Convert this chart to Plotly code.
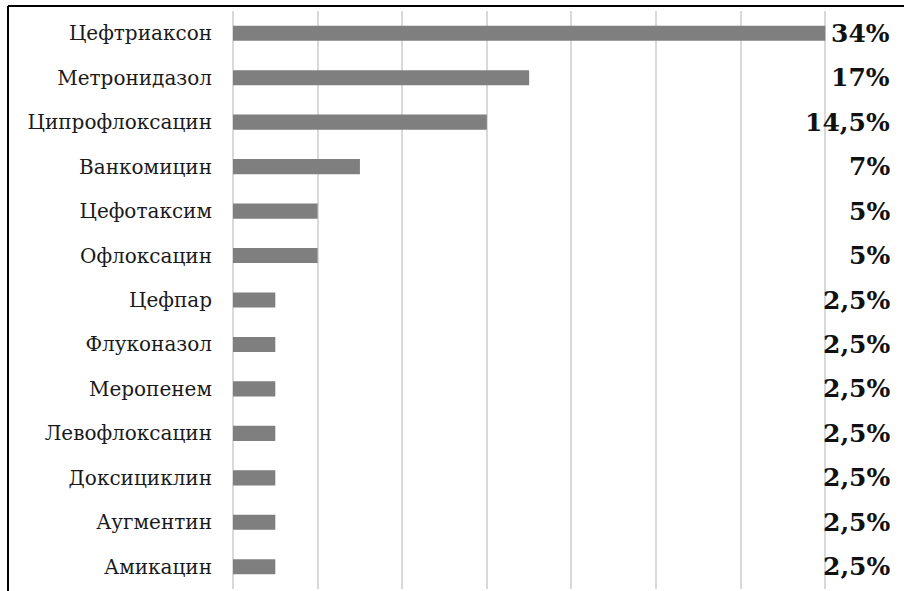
import plotly.graph_objects as go

drugs = ["Цефтриаксон", "Метронидазол", "Ципрофлоксацин", "Ванкомицин", "Цефотаксим",
         "Офлоксацин", "Цефпар", "Флуконазол", "Меропенем", "Левофлоксацин",
         "Доксициклин", "Аугментин", "Амикацин"]
counts = [14, 7, 6, 3, 2, 2, 1, 1, 1, 1, 1, 1, 1]
pct_labels = ["34%", "17%", "14,5%", "7%", "5%", "5%", "2,5%", "2,5%", "2,5%",
              "2,5%", "2,5%", "2,5%", "2,5%"]

W, H = 904, 591
L, R, T, B = 233, 0, 11, 2
pw, ph = W - L - R, H - T - B
SERIF = "DejaVu Serif"

fig = go.Figure()
fig.add_trace(go.Bar(
    x=counts, y=drugs, orientation="h",
    marker=dict(color="#7f7f7f", line=dict(width=0)),
    width=0.34, showlegend=False, hoverinfo="skip",
))

for d, lab in zip(drugs, pct_labels):
    fig.add_annotation(x=15.58, y=d, xref="x", yref="y", text=f"<b>{lab}</b>",
                       showarrow=False, xanchor="right", yanchor="middle",
                       font=dict(family=SERIF, size=25, color="#111111"))

# frame lines (top and left)
fig.add_shape(type="line", xref="paper", yref="paper",
              x0=(8 - L) / pw, x1=1.0, y0=1 + (T - 6) / ph, y1=1 + (T - 6) / ph,
              line=dict(color="black", width=2))
fig.add_shape(type="line", xref="paper", yref="paper",
              x0=(8 - L) / pw, x1=(8 - L) / pw, y0=1 + (T - 6) / ph, y1=-B / ph - 0.01,
              line=dict(color="black", width=2))

fig.update_layout(
    width=W, height=H,
    margin=dict(l=L, r=R, t=T, b=B, pad=0),
    paper_bgcolor="white", plot_bgcolor="white",
    bargap=0.5,
    xaxis=dict(range=[0, 15.86], dtick=2, showticklabels=False, showgrid=True,
               gridcolor="#d9d9d9", gridwidth=2, zeroline=True, zerolinecolor="#d9d9d9",
               zerolinewidth=2, showline=False, fixedrange=True),
    yaxis=dict(autorange="reversed", showgrid=False, ticks="", ticklabelstandoff=20,
               tickfont=dict(family=SERIF, size=20, color="#1a1a1a"),
               showline=False, fixedrange=True),
)

fig.write_html("out.html")
